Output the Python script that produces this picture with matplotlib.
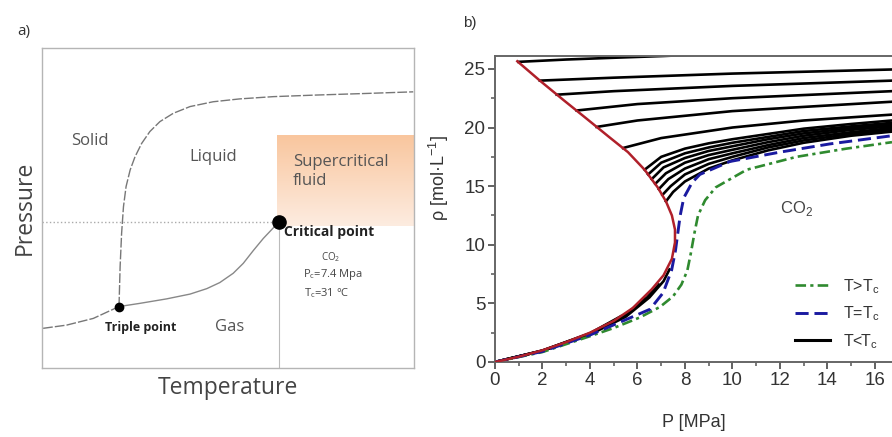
import numpy as np
import matplotlib.pyplot as plt
from matplotlib.colors import LinearSegmentedColormap

# %% panel a : schematic phase diagram (arbitrary units 0..10)
subl_T = [0.03, 0.66, 1.38, 2.07]
subl_P = [1.24, 1.34, 1.55, 1.92]

vap_T = [2.07, 2.63, 3.35, 3.98, 4.43, 4.78, 5.14, 5.41, 5.68, 5.95, 6.17, 6.37]
vap_P = [1.92, 2.02, 2.16, 2.31, 2.48, 2.67, 2.96, 3.27, 3.67, 4.05, 4.32, 4.57]

melt_T = [2.07, 2.10, 2.14, 2.19, 2.26, 2.37, 2.50, 2.68, 2.90, 3.17, 3.53, 3.98, 4.60, 5.32, 6.22, 7.38, 8.73, 9.98]
melt_P = [1.92, 3.17, 4.21, 5.04, 5.67, 6.19, 6.60, 7.02, 7.39, 7.70, 7.96, 8.17, 8.32, 8.41, 8.48, 8.53, 8.58, 8.63]

triple = (2.07, 1.92)
crit = (6.37, 4.57)
scf_box = (6.32, 10.0, 4.44, 7.28)

# %% panel b : CO2 isotherms, rho [mol/L] vs P [MPa]
red_P = [0, 1, 2, 3, 4, 5, 5.8, 6.6, 7.1, 7.45, 7.58,
         7.58, 7.45, 7.2, 6.85, 6.3, 5.6, 4.8, 3.86, 2.88, 1.89, 0.94]
red_rho = [0, 0.45, 1.0, 1.7, 2.5, 3.5, 4.6, 6.2, 7.4, 8.8, 10.2,
           11.3, 12.5, 13.7, 14.9, 16.4, 17.9, 19.2, 20.75, 22.35, 24.0, 25.65]

# liquid branches of the sub-critical isotherms
liq_P = [
    [0.98, 3, 5, 7.1, 10, 16.72],
    [1.89, 5, 10, 16.72],
    [2.60, 5, 10, 16.72],
    [3.44, 6, 10, 16.72],
    [4.28, 6, 10, 16.72],
    [5.39, 7, 10, 13, 16.72],
    [6.30, 7, 8, 9, 10, 11.5, 13, 15, 16.72],
    [6.45, 7, 8, 9, 10, 11.5, 13, 15, 16.72],
    [6.60, 7.1, 8, 9, 10, 11.5, 13, 15, 16.72],
    [6.75, 7.2, 8, 9, 10, 11.5, 13, 15, 16.72],
    [6.90, 7.3, 8, 9, 10, 11.5, 13, 15, 16.72],
    [7.05, 7.4, 8, 9, 10, 11.5, 13, 15, 16.72],
    [7.20, 7.5, 8, 9, 10, 11.5, 13, 15, 16.72],
]
liq_rho = [
    [25.6, 25.8, 25.95, 26.1, 26.35, 26.8],
    [24.0, 24.25, 24.6, 24.95],
    [22.8, 23.1, 23.55, 24.0],
    [21.45, 22.0, 22.5, 23.1],
    [20.05, 20.6, 21.4, 22.2],
    [18.25, 19.1, 20.0, 20.6, 21.1],
    [16.4, 17.5, 18.2, 18.65, 19.0, 19.45, 19.9, 20.3, 20.6],
    [16.0, 17.0, 17.8, 18.3, 18.7, 19.2, 19.7, 20.1, 20.4],
    [15.6, 16.6, 17.4, 18.0, 18.4, 19.0, 19.5, 19.95, 20.25],
    [15.2, 16.1, 17.0, 17.65, 18.1, 18.75, 19.3, 19.8, 20.1],
    [14.75, 15.6, 16.5, 17.3, 17.8, 18.5, 19.1, 19.6, 19.95],
    [14.25, 15.0, 16.0, 16.9, 17.5, 18.3, 18.9, 19.45, 19.8],
    [13.7, 14.5, 15.4, 16.5, 17.2, 18.05, 18.7, 19.3, 19.65],
]

# vapour branches of the sub-critical isotherms
vap_iso_P = [
    [0, 2, 4, 5.5, 6.5, 7.1, 7.35],
    [0, 2, 4, 5.5, 6.4, 6.9],
    [0, 2, 4, 5.5, 6.3],
    [0, 2, 4, 5.3],
]
vap_iso_rho = [
    [0, 0.95, 2.35, 3.85, 5.5, 6.9, 7.9],
    [0, 0.96, 2.4, 3.95, 5.5, 6.6],
    [0, 0.97, 2.42, 4.05, 5.4],
    [0, 0.98, 2.45, 3.9],
]

crit_P = [0, 2, 4, 5.5, 6.53, 7.08, 7.44, 7.6, 7.7, 7.8, 7.95, 8.3, 8.63, 9.89, 12.0, 14.1, 16.72]
crit_rho = [0, 0.9, 2.3, 3.6, 4.5, 5.9, 7.85, 9.5, 11.0, 12.5, 14.0, 15.3, 16.0, 17.1, 17.9, 18.6, 19.3]

super_P = [0, 2, 4, 5, 6.1, 6.95, 7.5, 7.85, 8.1, 8.25, 8.4, 8.55, 8.85, 9.3, 10.6, 12.7, 14.8, 16.72]
super_rho = [0, 0.85, 2.2, 2.9, 3.8, 4.7, 5.6, 6.6, 7.8, 9.3, 11.0, 12.5, 13.8, 14.9, 16.4, 17.5, 18.2, 18.75]

#%% FIGURE
fig = plt.figure(figsize=(8.92, 4.37), dpi=100)

ax_a = fig.add_axes([42/892, 69/437, 372/892, 320/437])
ax_b = fig.add_axes([495/892, 75/437, 397/892, 306/437])

# ---- panel a
fa = 'Open Sans'
ax_a.set_xlim(0, 10)
ax_a.set_ylim(0, 10)
ax_a.set_xticks([])
ax_a.set_yticks([])
for s in ax_a.spines.values():
    s.set_color('#b5b5b5')
    s.set_linewidth(1.0)

cmap = LinearSegmentedColormap.from_list('scf', ['#fdece0', '#f9c69e'])
grad = np.linspace(0, 1, 100).reshape(-1, 1)
ax_a.imshow(grad, cmap=cmap, extent=scf_box, origin='lower', aspect='auto', zorder=0)

ax_a.plot(subl_T, subl_P, color='#777777', lw=1.0, dashes=(7, 1.5))
ax_a.plot(vap_T, vap_P, color='#888888', lw=1.0)
ax_a.plot(melt_T, melt_P, color='#777777', lw=1.0, dashes=(7, 1.5))
ax_a.plot([0, crit[0]], [crit[1], crit[1]], color='#aaaaaa', lw=1.0, ls=':')
ax_a.plot([crit[0], crit[0]], [0, crit[1]], color='#bbbbbb', lw=0.8)
ax_a.plot(*crit, 'o', color='black', ms=9.5, zorder=5)
ax_a.plot(*triple, 'o', color='black', ms=6, zorder=5)

ax_a.text(1.3, 7.1, 'Solid', fontsize=12, color='#555555', family=fa, ha='center', va='center')
ax_a.text(4.6, 6.6, 'Liquid', fontsize=12, color='#555555', family=fa, ha='center', va='center')
ax_a.text(6.75, 6.15, 'Supercritical\nfluid', fontsize=12, color='#555555', family=fa,
          ha='left', va='center', linespacing=1.25)
ax_a.text(6.5, 4.25, 'Critical point', fontsize=10, fontweight='bold', color='#222222',
          family=fa, ha='left', va='center')
ax_a.text(7.77, 3.46, r'CO$_\mathregular{2}$', fontsize=7, color='#444444', family=fa, ha='center', va='center')
ax_a.text(7.83, 2.93, r'P$_\mathregular{c}$=7.4 Mpa', fontsize=8, color='#444444', family=fa, ha='center', va='center')
ax_a.text(7.65, 2.34, r'T$_\mathregular{c}$=31 °C', fontsize=8, color='#444444', family=fa, ha='center', va='center')
ax_a.text(2.65, 1.28, 'Triple point', fontsize=9, fontweight='bold', color='#222222',
          family=fa, ha='center', va='center')
ax_a.text(5.05, 1.28, 'Gas', fontsize=12, color='#555555', family=fa, ha='center', va='center')

ax_a.set_xlabel('Temperature', fontsize=16.5, color='#444444', family=fa, labelpad=6)
ax_a.set_ylabel('Pressure', fontsize=16.5, color='#444444', family=fa, labelpad=4)
fig.text(24/892, 1 - 31/437, 'a)', fontsize=11, color='#333333', family=fa, ha='center', va='center')

# ---- panel b
fb = 'Liberation Sans'
for xs, ys in zip(vap_iso_P, vap_iso_rho):
    ax_b.plot(xs, ys, color='black', lw=1.9)
for xs, ys in zip(liq_P, liq_rho):
    ax_b.plot(xs, ys, color='black', lw=1.9)
ax_b.plot(super_P, super_rho, color='#2f8a2f', lw=1.9, dashes=(4, 1.6, 1.2, 1.6), label=r'T>T$_\mathregular{c}$')
ax_b.plot(crit_P, crit_rho, color='#1a1aa0', lw=2.1, dashes=(4.5, 2), label=r'T=T$_\mathregular{c}$')
ax_b.plot([], [], color='black', lw=2.2, label=r'T<T$_\mathregular{c}$')
ax_b.plot(red_P, red_rho, color='#b0202a', lw=1.8, zorder=6)

ax_b.set_xlim(0, 16.72)
ax_b.set_ylim(0, 26.1)
ax_b.set_xticks(np.arange(0, 17, 2))
ax_b.set_xticks(np.arange(1, 17, 2), minor=True)
ax_b.set_yticks(np.arange(0, 26, 5))
ax_b.set_yticks(np.arange(2.5, 26, 5), minor=True)
ax_b.tick_params(which='major', direction='out', length=5, width=1.3, color='#555555',
                 labelsize=13.5, labelcolor='#333333', pad=2)
ax_b.tick_params(which='minor', direction='out', length=3, width=1.1, color='#555555')
for lab in ax_b.get_xticklabels() + ax_b.get_yticklabels():
    lab.set_family(fb)
ax_b.spines['right'].set_visible(False)
for k in ['left', 'bottom', 'top']:
    ax_b.spines[k].set_color('#666666')
    ax_b.spines[k].set_linewidth(1.4)

ax_b.text(12.7, 13.1, r'CO$_\mathregular{2}$', fontsize=12, color='#444444', family=fb, ha='center', va='center')

ax_b.set_xlabel('P [MPa]', fontsize=13, color='#333333', family=fb)
ax_b.xaxis.set_label_coords(0.5, -0.17)
ax_b.set_ylabel(r'ρ [mol·L$^\mathregular{-1}$]', fontsize=13, color='#333333', family=fb)
ax_b.yaxis.set_label_coords(-0.11, 0.6)
fig.text(470/892, 1 - 23/437, 'b)', fontsize=11, color='#333333', family=fb, ha='center', va='center')

leg = ax_b.legend(loc='upper left', bbox_to_anchor=(0.72, 0.325), frameon=False,
                  handlelength=2.2, handletextpad=0.8, labelspacing=0.55,
                  prop={'family': fb, 'size': 11.5})
for t in leg.get_texts():
    t.set_color('#333333')

fig.savefig('out.png', dpi=100)
